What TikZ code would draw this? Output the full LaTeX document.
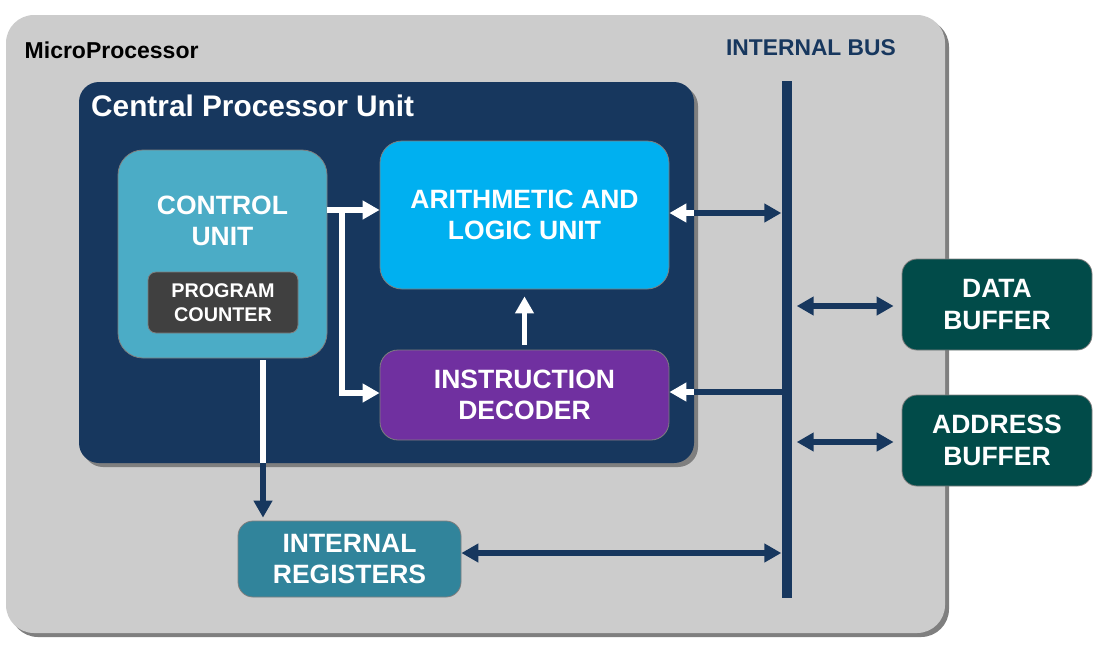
\documentclass[tikz,border=0pt]{standalone}
\usepackage{fontspec}
\setmainfont{Liberation Sans}
\usetikzlibrary{arrows.meta,shadows}
\definecolor{mpgray}{HTML}{CCCCCC}
\definecolor{shgray}{HTML}{7F7F7F}
\definecolor{navy}{HTML}{17375E}
\definecolor{cuc}{HTML}{4BACC6}
\definecolor{pcc}{HTML}{404040}
\definecolor{aluc}{HTML}{00B0F0}
\definecolor{idc}{HTML}{7030A0}
\definecolor{bufc}{HTML}{014B49}
\definecolor{irc}{HTML}{31849B}
\begin{document}
\begin{tikzpicture}[x=1pt,y=-1pt,
  box/.style={draw=shgray, line width=0.8pt, inner sep=0pt, text=white,
    font=\fontsize{26.5}{31.5}\selectfont\bfseries, align=center},
  shad/.style={drop shadow={fill=shgray, opacity=1, shadow xshift=4pt, shadow yshift=-4pt}},
  navarrow/.style={draw=navy, line width=5.5pt, -{Triangle[length=17pt,width=18pt]}},
  navboth/.style={draw=navy, line width=5.5pt, {Triangle[length=17pt,width=18pt]}-{Triangle[length=17pt,width=18pt]}},
  navline/.style={draw=navy, line width=5.5pt},
  warrow/.style={draw=white, line width=5.5pt, -{Triangle[length=17pt,width=18pt]}},
  wline/.style={draw=white, line width=5.5pt}]
\useasboundingbox (0,0) rectangle (1110,646);

% outer microprocessor box
\node[fill=mpgray, minimum width=939pt, minimum height=618pt, rounded corners=28pt, inner sep=0pt, shad] (mp) at (475.5,324) {};
\node[anchor=west, inner sep=0pt, font=\fontsize{23}{27}\selectfont\bfseries] (mptitle) at (24.5,50) {MicroProcessor};
\node[inner sep=0pt, text=navy, font=\fontsize{22.8}{27}\selectfont\bfseries] (bustitle) at (811,48) {INTERNAL BUS};

% CPU box
\node[fill=navy, minimum width=615pt, minimum height=381pt, rounded corners=20pt, inner sep=0pt, shad] (cpu) at (386.5,272.5) {};
\node[anchor=west, inner sep=0pt, text=white, font=\fontsize{29.8}{35}\selectfont\bfseries] (cputitle) at (91,106) {Central Processor Unit};

% inner blocks
\node[box, fill=cuc, minimum width=209pt, minimum height=208pt, rounded corners=25pt] (cu) at (222.5,254) {};
\node[box, draw=none] (cutext) at (222.5,221) {CONTROL\\UNIT};
\node[box, fill=pcc, minimum width=150pt, minimum height=61pt, rounded corners=8pt, font=\fontsize{19.8}{24}\selectfont\bfseries] (pc) at (223,302.5) {PROGRAM\\COUNTER};
\node[box, fill=aluc, minimum width=289pt, minimum height=148pt, rounded corners=22pt] (alu) at (524.5,215) {ARITHMETIC AND\\LOGIC UNIT};
\node[box, fill=idc, minimum width=289pt, minimum height=90pt, rounded corners=18pt] (id) at (524.5,395) {INSTRUCTION\\DECODER};

% outside blocks
\node[box, fill=bufc, minimum width=190pt, minimum height=91pt, rounded corners=15pt] (db) at (997,304.5) {DATA\\BUFFER};
\node[box, fill=bufc, minimum width=190pt, minimum height=91pt, rounded corners=15pt] (ab) at (997,440.5) {ADDRESS\\BUFFER};
\node[box, fill=irc, minimum width=223pt, minimum height=76pt, rounded corners=15pt] (ir) at (349.5,559) {INTERNAL\\REGISTERS};

% internal bus
\node[fill=navy, minimum width=10pt, minimum height=517pt, inner sep=0pt] (bus) at (786.5,339.5) {};

% helper coordinates
\coordinate (ya) at (0,210);
\coordinate (br) at (342,210);
\coordinate (yb) at (0,393);
\coordinate (yc) at (0,213);
\coordinate (yd) at (0,392);
\coordinate (ye) at (0,306);
\coordinate (yf) at (0,442);
\coordinate (yg) at (0,553);
\coordinate (cd) at (263,0);

% white connectors inside CPU
\draw[warrow] (cu.east |- ya) -- (alu.west |- ya);
\draw[warrow] (br) -- (br |- yb) -- (id.west |- yb);
\draw[warrow, shorten <=5pt, shorten >=7pt] (id.north) -- (alu.south);
\draw[warrow] (cpu.east |- yc) -- (alu.east |- yc);
\draw[warrow] (cpu.east |- yd) -- (id.east |- yd);
\draw[wline, shorten <=2pt] (cu.south -| cd) -- (cpu.south -| cd);

% navy connectors
\draw[navarrow] (cpu.east |- yc) -- (bus.west |- yc);
\draw[navline] (cpu.east |- yd) -- (bus.center |- yd);
\draw[navarrow, shorten >=3pt] (cpu.south -| cd) -- (ir.north -| cd);
\draw[navboth, shorten <=5pt, shorten >=8pt] (bus.east |- ye) -- (db.west |- ye);
\draw[navboth, shorten <=5pt, shorten >=8pt] (bus.east |- yf) -- (ab.west |- yf);
\draw[navboth] (ir.east |- yg) -- (bus.west |- yg);
\end{tikzpicture}
\end{document}
